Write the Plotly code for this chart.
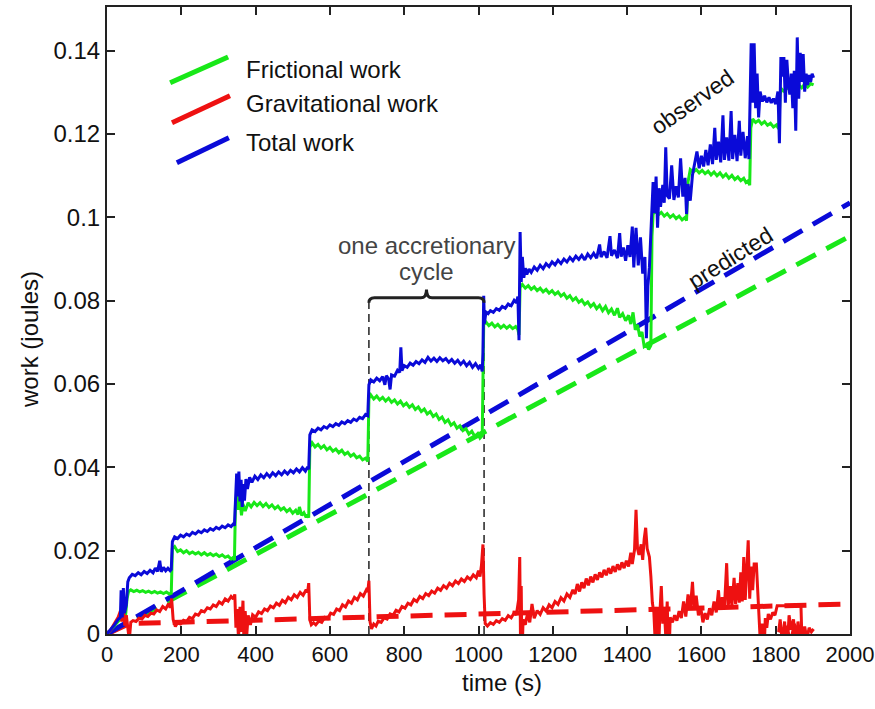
import plotly.graph_objects as go

# Observed work series: (time in s, work in J)
frictional_obs = [
    (0, 0), (15, 0.0015), (30, 0.003), (40, 0.004), (46, 0.005), (50, 0.0045), (54, 0.0085), (58, 0.0102),
    (64, 0.0106), (72, 0.0102), (80, 0.0105), (88, 0.0101), (96, 0.0104), (104, 0.01), (112, 0.0103),
    (120, 0.0099), (128, 0.0102), (136, 0.0098), (144, 0.0101), (152, 0.0097), (160, 0.0101), (168, 0.0096),
    (173, 0.0098), (176, 0.0205), (182, 0.021), (190, 0.0198), (198, 0.0202), (206, 0.0195), (214, 0.02),
    (222, 0.0193), (230, 0.0197), (238, 0.0192), (246, 0.0196), (254, 0.019), (262, 0.0195), (270, 0.0189),
    (278, 0.0193), (286, 0.0188), (294, 0.0192), (302, 0.0186), (310, 0.019), (318, 0.0184), (326, 0.0187),
    (334, 0.018), (340, 0.0184), (343, 0.0177), (346, 0.0318), (350, 0.0336), (354, 0.0298), (358, 0.0322),
    (362, 0.0285), (366, 0.0312), (372, 0.0295), (380, 0.0315), (388, 0.0305), (396, 0.0316), (404, 0.0308),
    (412, 0.0315), (420, 0.0306), (428, 0.0313), (436, 0.0304), (444, 0.031), (452, 0.0301), (460, 0.0307),
    (468, 0.0298), (476, 0.0303), (484, 0.0294), (492, 0.03), (500, 0.029), (508, 0.0297), (514, 0.0287),
    (518, 0.0305), (524, 0.0285), (530, 0.0291), (536, 0.028), (540, 0.0286), (543, 0.0279), (546, 0.0448),
    (552, 0.0459), (560, 0.0449), (568, 0.0455), (576, 0.0446), (584, 0.0452), (592, 0.0442), (600, 0.0448),
    (608, 0.0439), (616, 0.0444), (624, 0.0435), (632, 0.0441), (640, 0.0431), (648, 0.0436), (656, 0.0427),
    (664, 0.0432), (672, 0.0423), (680, 0.0427), (688, 0.0418), (696, 0.0422), (702, 0.0414), (705, 0.0565),
    (710, 0.0574), (718, 0.0564), (726, 0.0571), (734, 0.0562), (742, 0.0568), (750, 0.0559), (758, 0.0566),
    (766, 0.0556), (774, 0.0562), (782, 0.0552), (790, 0.0559), (798, 0.0548), (806, 0.0554), (814, 0.0544),
    (822, 0.055), (830, 0.0539), (838, 0.0545), (846, 0.0534), (854, 0.054), (862, 0.0528), (870, 0.0534),
    (878, 0.0522), (886, 0.0528), (894, 0.0515), (902, 0.0521), (910, 0.0508), (918, 0.0514), (926, 0.0501),
    (934, 0.0507), (942, 0.0494), (950, 0.05), (958, 0.0488), (966, 0.0493), (974, 0.048), (982, 0.0487),
    (990, 0.0474), (998, 0.0481), (1004, 0.047), (1010, 0.0476), (1014, 0.0742), (1020, 0.0749),
    (1028, 0.074), (1036, 0.0746), (1044, 0.0737), (1052, 0.0743), (1060, 0.0735), (1068, 0.0741),
    (1076, 0.0734), (1084, 0.074), (1092, 0.0733), (1100, 0.0738), (1106, 0.0731), (1109, 0.0718),
    (1112, 0.0832), (1118, 0.0839), (1126, 0.083), (1134, 0.0836), (1142, 0.0827), (1150, 0.0833),
    (1158, 0.0824), (1166, 0.083), (1174, 0.0821), (1182, 0.0827), (1190, 0.0818), (1198, 0.0824),
    (1206, 0.0815), (1214, 0.0821), (1222, 0.0811), (1230, 0.0817), (1238, 0.0806), (1246, 0.0812),
    (1254, 0.0801), (1262, 0.0807), (1270, 0.0796), (1278, 0.0802), (1286, 0.0791), (1294, 0.0797),
    (1302, 0.0786), (1310, 0.0793), (1318, 0.0781), (1326, 0.0789), (1334, 0.0776), (1342, 0.0786),
    (1350, 0.0771), (1358, 0.078), (1366, 0.0765), (1374, 0.0782), (1380, 0.076), (1388, 0.0769),
    (1396, 0.0752), (1404, 0.0765), (1410, 0.0744), (1416, 0.0772), (1422, 0.073), (1428, 0.0742),
    (1434, 0.0714), (1440, 0.0725), (1446, 0.069), (1452, 0.0694), (1458, 0.0683), (1464, 0.0693),
    (1467, 0.0955), (1470, 0.1008), (1476, 0.1015), (1484, 0.1006), (1492, 0.1012), (1500, 0.1003),
    (1508, 0.1009), (1516, 0.1), (1524, 0.1006), (1532, 0.0997), (1540, 0.1003), (1548, 0.0994),
    (1556, 0.1), (1560, 0.0992), (1564, 0.1085), (1570, 0.1115), (1578, 0.1109), (1586, 0.1115),
    (1594, 0.1107), (1602, 0.1113), (1610, 0.1105), (1618, 0.1111), (1626, 0.1102), (1634, 0.1109),
    (1642, 0.11), (1650, 0.1107), (1658, 0.1097), (1666, 0.1104), (1674, 0.1094), (1682, 0.1101),
    (1690, 0.1091), (1698, 0.1097), (1706, 0.1088), (1714, 0.1094), (1720, 0.1084), (1726, 0.1088),
    (1730, 0.1077), (1733, 0.1215), (1738, 0.1236), (1746, 0.1228), (1754, 0.1233), (1762, 0.1224),
    (1770, 0.123), (1778, 0.1221), (1786, 0.1226), (1794, 0.1217), (1802, 0.1222), (1808, 0.1213),
    (1812, 0.1295), (1816, 0.1308), (1822, 0.1303), (1830, 0.1312), (1838, 0.1306), (1846, 0.1315),
    (1854, 0.1309), (1862, 0.1318), (1870, 0.1311), (1878, 0.132), (1886, 0.1313), (1894, 0.1321),
    (1902, 0.1318),
]

gravitational_obs = [
    (0, 0), (10, 0.001), (20, 0.0025), (30, 0.004), (36, 0.0055), (40, 0.003), (44, 0.006), (48, 0.002),
    (52, 0.0045), (56, 0.0018), (60, -0.0015), (64, 0.0028), (70, 0.0032), (78, 0.003), (86, 0.0038),
    (94, 0.0036), (102, 0.0045), (110, 0.0042), (118, 0.005), (126, 0.0048), (134, 0.0058), (142, 0.0054),
    (150, 0.0066), (158, 0.006), (166, 0.0073), (170, 0.0063), (174, 0.0085), (178, 0.0035), (184, 0.0018),
    (190, 0.0027), (198, 0.0024), (206, 0.0033), (214, 0.003), (222, 0.004), (230, 0.0037), (238, 0.0048),
    (246, 0.0045), (254, 0.0056), (262, 0.0053), (270, 0.0063), (278, 0.006), (286, 0.007), (294, 0.0066),
    (302, 0.0077), (310, 0.0072), (318, 0.0084), (326, 0.0079), (334, 0.009), (340, 0.0084), (344, 0.0095),
    (347, 0.0015), (350, 0.006), (354, -0.001), (358, 0.0065), (362, 0.0005), (366, 0.008), (369, -0.0035),
    (372, 0.0055), (376, -0.0005), (380, 0.0045), (386, 0.0022), (392, 0.0046), (400, 0.004), (408, 0.0053),
    (416, 0.0049), (424, 0.006), (432, 0.0056), (440, 0.0067), (448, 0.0063), (456, 0.0074), (464, 0.0069),
    (472, 0.0081), (480, 0.0075), (488, 0.0088), (496, 0.0082), (504, 0.0094), (512, 0.0088), (520, 0.01),
    (528, 0.0093), (536, 0.0106), (540, 0.01), (543, 0.0122), (546, 0.0035), (550, 0.0022), (556, 0.0027),
    (562, 0.0022), (570, 0.0031), (578, 0.0028), (586, 0.004), (594, 0.0037), (602, 0.005), (610, 0.0047),
    (618, 0.006), (626, 0.0056), (634, 0.007), (642, 0.0065), (650, 0.0079), (658, 0.0074), (666, 0.0088),
    (674, 0.0082), (682, 0.0097), (690, 0.0091), (698, 0.0106), (702, 0.0101), (705, 0.0128), (708, 0.003),
    (712, 0.0012), (718, 0.0024), (724, 0.0019), (730, 0.0031), (738, 0.0028), (746, 0.0039), (754, 0.0036),
    (762, 0.0048), (770, 0.0045), (778, 0.0057), (786, 0.0053), (794, 0.0066), (802, 0.0062), (810, 0.0074),
    (818, 0.007), (826, 0.0083), (834, 0.0078), (842, 0.009), (850, 0.0085), (858, 0.0097), (866, 0.0092),
    (874, 0.0103), (882, 0.0098), (890, 0.011), (898, 0.0105), (906, 0.0116), (914, 0.011), (922, 0.0122),
    (930, 0.0116), (938, 0.0127), (946, 0.0121), (954, 0.0132), (962, 0.0126), (970, 0.0137), (978, 0.0131),
    (986, 0.0142), (994, 0.0135), (1000, 0.0152), (1004, 0.0138), (1008, 0.0165), (1012, 0.0215),
    (1015, 0.0095), (1018, 0.0025), (1024, 0.0019), (1032, 0.0027), (1040, 0.0023), (1048, 0.0032),
    (1056, 0.0028), (1064, 0.0037), (1072, 0.0033), (1080, 0.0044), (1088, 0.0039), (1096, 0.0051),
    (1102, 0.0046), (1108, 0.0082), (1111, 0.0185), (1113, -0.0008), (1115, 0.0115), (1117, -0.0058),
    (1120, 0.0035), (1126, 0.0022), (1132, 0.005), (1138, 0.0028), (1144, 0.0072), (1150, 0.0038),
    (1158, 0.0056), (1166, 0.0047), (1174, 0.0063), (1182, 0.0055), (1190, 0.007), (1198, 0.0063),
    (1206, 0.0078), (1214, 0.0071), (1222, 0.0087), (1230, 0.0079), (1238, 0.0096), (1246, 0.0088),
    (1254, 0.0106), (1260, 0.0096), (1266, 0.012), (1272, 0.0102), (1278, 0.0124), (1284, 0.011),
    (1290, 0.0133), (1296, 0.0117), (1302, 0.0138), (1308, 0.0124), (1314, 0.0143), (1320, 0.013),
    (1326, 0.0148), (1332, 0.0136), (1338, 0.0154), (1344, 0.0141), (1350, 0.0158), (1356, 0.0145),
    (1362, 0.0163), (1368, 0.0149), (1374, 0.0167), (1380, 0.0154), (1386, 0.0172), (1392, 0.0158),
    (1398, 0.0176), (1404, 0.0162), (1410, 0.0195), (1414, 0.0168), (1420, 0.0202), (1424, 0.0298),
    (1428, 0.0205), (1432, 0.019), (1438, 0.0215), (1442, 0.0178), (1446, 0.0228), (1450, 0.0255),
    (1454, 0.0205), (1460, 0.0185), (1464, 0.0138), (1468, 0.0075), (1472, 0.0052), (1476, -0.0025),
    (1480, 0.0065), (1484, -0.0065), (1488, 0.0045), (1492, 0.0115), (1496, 0.0025), (1500, 0.0062),
    (1504, -0.0005), (1508, 0.0078), (1512, -0.0085), (1516, 0.004), (1522, 0.0028), (1528, 0.0045),
    (1534, 0.0032), (1540, 0.0055), (1546, 0.0038), (1552, 0.0078), (1558, 0.0042), (1564, 0.0095),
    (1570, 0.0058), (1576, 0.0125), (1580, 0.0062), (1586, 0.0092), (1592, 0.0045), (1598, 0.0065),
    (1604, 0.0028), (1610, 0.005), (1616, 0.0035), (1622, 0.0062), (1628, 0.0045), (1634, 0.0078),
    (1640, 0.0052), (1646, 0.0105), (1650, 0.0058), (1656, 0.0088), (1662, 0.0062), (1668, 0.017),
    (1672, 0.0065), (1678, 0.0115), (1682, 0.0068), (1688, 0.0135), (1692, 0.0072), (1698, 0.0122),
    (1702, 0.0075), (1706, 0.0148), (1710, 0.0078), (1714, 0.0185), (1718, 0.0082), (1722, 0.014),
    (1726, 0.0225), (1730, 0.0085), (1734, 0.0162), (1738, 0.0105), (1742, 0.0168), (1748, 0.0168),
    (1752, 0.0098), (1756, 0.0045), (1760, -0.0045), (1764, 0.0025), (1768, -0.006), (1772, 0.0038),
    (1776, 0.0015), (1780, 0.0048), (1786, 0.0035), (1792, 0.0052), (1798, 0.0045), (1804, 0.0068),
    (1868, 0.0068), (1870, 0.0005), (1866, -0.001), (1860, 0.003), (1854, -0.004), (1848, 0.0035),
    (1842, 0.001), (1836, 0.0045), (1830, -0.005), (1824, 0.003), (1818, -0.002), (1812, 0.0035),
    (1808, 0.0005), (1814, 0.0012), (1822, -0.0035), (1830, 0.002), (1840, -0.002), (1850, 0.0025),
    (1858, -0.0015), (1866, 0.002), (1872, -0.0005), (1878, 0.0018), (1884, -0.0012), (1890, 0.0015),
    (1896, 0.0005), (1902, 0.0012),
]

total_obs = [
    (0, 0), (10, 0.001), (20, 0.0022), (30, 0.0035), (36, 0.004), (38, 0.0105), (41, 0.004), (44, 0.011),
    (47, 0.005), (52, 0.007), (56, 0.0125), (60, 0.0135), (68, 0.0143), (76, 0.014), (84, 0.0147),
    (92, 0.0142), (100, 0.015), (108, 0.0145), (116, 0.0153), (124, 0.0147), (130, 0.0158), (136, 0.015),
    (142, 0.0176), (146, 0.0149), (152, 0.016), (158, 0.0152), (164, 0.0158), (170, 0.0152), (173, 0.0155),
    (176, 0.0222), (182, 0.0233), (190, 0.0229), (198, 0.0237), (206, 0.0233), (214, 0.024), (222, 0.0236),
    (230, 0.0244), (238, 0.024), (246, 0.0247), (254, 0.0243), (262, 0.025), (270, 0.0246), (278, 0.0253),
    (286, 0.0249), (294, 0.0256), (302, 0.0252), (310, 0.0259), (318, 0.0255), (326, 0.0262), (334, 0.0258),
    (340, 0.0264), (343, 0.026), (346, 0.0345), (349, 0.0385), (352, 0.033), (355, 0.039), (358, 0.0318),
    (361, 0.037), (364, 0.0305), (367, 0.036), (370, 0.032), (374, 0.0372), (378, 0.0348), (384, 0.0376),
    (390, 0.0364), (398, 0.0379), (406, 0.0371), (414, 0.0382), (422, 0.0375), (430, 0.0385), (438, 0.0377),
    (446, 0.0387), (454, 0.038), (462, 0.0389), (470, 0.0382), (478, 0.0391), (486, 0.0384), (494, 0.0393),
    (502, 0.0387), (510, 0.0396), (518, 0.0389), (526, 0.0399), (534, 0.0391), (540, 0.0401), (543, 0.0395),
    (546, 0.0478), (552, 0.049), (560, 0.0486), (568, 0.0494), (576, 0.049), (584, 0.0498), (592, 0.0494),
    (600, 0.0502), (608, 0.0498), (616, 0.0505), (624, 0.0501), (632, 0.0509), (640, 0.0505), (648, 0.0512),
    (656, 0.0508), (664, 0.0516), (672, 0.0512), (680, 0.052), (688, 0.0517), (696, 0.0527), (702, 0.0524),
    (705, 0.0598), (710, 0.061), (718, 0.0605), (726, 0.0614), (734, 0.0608), (742, 0.0618), (748, 0.0598),
    (752, 0.062), (758, 0.0612), (762, 0.0587), (766, 0.0622), (774, 0.0619), (782, 0.0633), (788, 0.0628),
    (791, 0.0688), (794, 0.0632), (800, 0.0644), (808, 0.064), (816, 0.065), (824, 0.0645), (832, 0.0654),
    (840, 0.0649), (848, 0.0658), (856, 0.0652), (864, 0.0664), (872, 0.0655), (880, 0.0662), (888, 0.0654),
    (896, 0.0663), (904, 0.0656), (912, 0.0661), (920, 0.0652), (928, 0.0659), (936, 0.065), (944, 0.0657),
    (952, 0.0647), (960, 0.0655), (968, 0.0644), (976, 0.0652), (984, 0.064), (992, 0.0649), (1000, 0.0638),
    (1006, 0.0646), (1010, 0.063), (1012, 0.0675), (1014, 0.0812), (1016, 0.0745), (1020, 0.0773),
    (1026, 0.0769), (1032, 0.0776), (1040, 0.0772), (1048, 0.0781), (1056, 0.0777), (1064, 0.0786),
    (1072, 0.0782), (1080, 0.0792), (1088, 0.0788), (1096, 0.0801), (1102, 0.0795), (1106, 0.081),
    (1109, 0.0705), (1112, 0.0965), (1115, 0.0845), (1118, 0.0905), (1122, 0.0855), (1126, 0.0878),
    (1130, 0.0863), (1136, 0.0876), (1142, 0.0868), (1150, 0.0881), (1158, 0.0873), (1166, 0.0885),
    (1174, 0.0877), (1182, 0.0889), (1190, 0.0882), (1198, 0.0893), (1206, 0.0886), (1214, 0.0897),
    (1222, 0.0889), (1230, 0.09), (1238, 0.0893), (1246, 0.0904), (1254, 0.0896), (1262, 0.0907),
    (1270, 0.0899), (1278, 0.0909), (1286, 0.0898), (1294, 0.0912), (1302, 0.0903), (1310, 0.0914),
    (1318, 0.0902), (1326, 0.0935), (1330, 0.0905), (1338, 0.0918), (1346, 0.0903), (1354, 0.0955),
    (1358, 0.0908), (1366, 0.0922), (1374, 0.0902), (1380, 0.0962), (1384, 0.0906), (1390, 0.0928),
    (1396, 0.0896), (1402, 0.0933), (1408, 0.0905), (1414, 0.0978), (1418, 0.088), (1424, 0.0975),
    (1430, 0.0885), (1436, 0.0952), (1442, 0.0865), (1448, 0.0905), (1452, 0.071), (1456, 0.0835),
    (1460, 0.088), (1464, 0.0962), (1467, 0.1045), (1470, 0.1085), (1474, 0.101), (1478, 0.1098),
    (1482, 0.0975), (1486, 0.107), (1490, 0.1025), (1496, 0.1078), (1500, 0.1035), (1504, 0.1168),
    (1508, 0.1052), (1514, 0.1045), (1520, 0.1125), (1526, 0.1042), (1532, 0.1075), (1538, 0.1048),
    (1544, 0.1142), (1550, 0.105), (1556, 0.1095), (1560, 0.1008), (1564, 0.108), (1570, 0.104),
    (1576, 0.1102), (1582, 0.1135), (1588, 0.1158), (1594, 0.1118), (1600, 0.1148), (1606, 0.1122),
    (1612, 0.1162), (1618, 0.1125), (1624, 0.1175), (1630, 0.1128), (1636, 0.1215), (1640, 0.1138),
    (1646, 0.1182), (1652, 0.1132), (1658, 0.1245), (1662, 0.1138), (1668, 0.1192), (1674, 0.1136),
    (1680, 0.1255), (1684, 0.114), (1690, 0.1198), (1696, 0.1135), (1702, 0.1232), (1706, 0.1148),
    (1712, 0.1205), (1718, 0.1142), (1724, 0.1195), (1728, 0.114), (1731, 0.1265), (1734, 0.1418),
    (1738, 0.1275), (1742, 0.1418), (1746, 0.1262), (1750, 0.1345), (1754, 0.124), (1758, 0.1302),
    (1764, 0.1278), (1770, 0.1292), (1776, 0.1276), (1782, 0.1288), (1788, 0.1275), (1794, 0.1285),
    (1800, 0.1272), (1806, 0.1302), (1810, 0.1178), (1814, 0.1385), (1818, 0.1338), (1822, 0.1385),
    (1826, 0.1275), (1830, 0.1378), (1834, 0.1322), (1838, 0.1295), (1842, 0.1345), (1846, 0.1262),
    (1850, 0.1352), (1854, 0.1208), (1858, 0.1432), (1862, 0.1285), (1866, 0.1395), (1870, 0.1325),
    (1874, 0.1392), (1878, 0.1302), (1882, 0.1345), (1886, 0.1318), (1890, 0.1342), (1894, 0.1325),
    (1898, 0.1345), (1902, 0.1335),
]

# Predicted (model) work
pred_time = [0, 2000]
pred_frictional = [0, 0.0955]
pred_total = [0, 0.1035]
pred_grav_time = [0, 60, 2000]
pred_gravitational = [0, 0.0025, 0.0072]

# One accretionary cycle boundaries (s) and marker height (J)
cycle_start, cycle_end = 705, 1015
cycle_top = 0.0805

x_ticks = list(range(0, 2001, 200))
y_ticks = [0, 0.02, 0.04, 0.06, 0.08, 0.1, 0.12, 0.14]
y_tick_text = ["0", "0.02", "0.04", "0.06", "0.08", "0.1", "0.12", "0.14"]

GREEN = "#18e818"
RED = "#ee1111"
BLUE = "#0a0ad8"
FONT = "Liberation Sans, Arial, sans-serif"
TEXT_SIZE = 24


def split(pairs):
    return [p[0] for p in pairs], [p[1] for p in pairs]


fig = go.Figure()

# dashed predictions
for tx, ty, col in [(pred_time, pred_frictional, GREEN),
                    (pred_grav_time, pred_gravitational, RED),
                    (pred_time, pred_total, BLUE)]:
    fig.add_trace(go.Scatter(x=tx, y=ty, mode="lines",
                             line=dict(color=col, width=5, dash="22px,12px"),
                             showlegend=False, hoverinfo="skip"))

# observed series
for series, col in [(frictional_obs, GREEN), (gravitational_obs, RED), (total_obs, BLUE)]:
    tx, ty = split(series)
    fig.add_trace(go.Scatter(x=tx, y=ty, mode="lines",
                             line=dict(color=col, width=3),
                             showlegend=False, hoverinfo="skip"))

shapes = []
# cycle boundaries
for xc in (cycle_start, cycle_end):
    shapes.append(dict(type="line", xref="x", yref="y", x0=xc, x1=xc, y0=0, y1=cycle_top,
                       line=dict(color="#222222", width=1.5, dash="8px,5px"), layer="below"))
# curly brace over the cycle
mid = (cycle_start + cycle_end) / 2
b0 = cycle_top - 0.001
b1 = cycle_top + 0.0002
b2 = cycle_top + 0.0022
brace = (f"M {cycle_start},{b0} Q {cycle_start},{b1} {cycle_start + 15},{b1} "
         f"L {mid - 15},{b1} Q {mid},{b1} {mid},{b2} "
         f"Q {mid},{b1} {mid + 15},{b1} L {cycle_end - 15},{b1} "
         f"Q {cycle_end},{b1} {cycle_end},{b0}")
shapes.append(dict(type="path", xref="x", yref="y", path=brace,
                   line=dict(color="#222222", width=3)))

# hand-drawn style legend (slanted swatches)
legend_items = [("Frictional work", GREEN, (170, 0.1323), (326, 0.1385), 0.1354),
                ("Gravitational work", RED, (175, 0.1227), (331, 0.1292), 0.1273),
                ("Total work", BLUE, (188, 0.1131), (328, 0.1191), 0.1179)]
annotations = []
for label, col, p0, p1, ty in legend_items:
    shapes.append(dict(type="line", xref="x", yref="y", x0=p0[0], y0=p0[1], x1=p1[0], y1=p1[1],
                       line=dict(color=col, width=5)))
    annotations.append(dict(x=369, y=ty, xref="x", yref="y", text=label, showarrow=False,
                            xanchor="left", yanchor="middle",
                            font=dict(family=FONT, size=TEXT_SIZE, color="#111111")))

annotations += [
    dict(x=mid, y=0.0932, xref="x", yref="y", text="one accretionary", showarrow=False,
         font=dict(family=FONT, size=TEXT_SIZE, color="#444444")),
    dict(x=mid, y=0.0869, xref="x", yref="y", text="cycle", showarrow=False,
         font=dict(family=FONT, size=TEXT_SIZE, color="#444444")),
    dict(x=1575, y=0.1277, xref="x", yref="y", text="observed", showarrow=False, textangle=-35,
         font=dict(family=FONT, size=23, color="#111111")),
    dict(x=1677, y=0.0903, xref="x", yref="y", text="predicted", showarrow=False, textangle=-32,
         font=dict(family=FONT, size=23, color="#111111")),
    dict(x=0.531, y=-0.078, xref="paper", yref="paper", text="time (s)", showarrow=False,
         yanchor="middle", font=dict(family=FONT, size=TEXT_SIZE, color="#111111")),
    dict(x=-0.104, y=0.47, xref="paper", yref="paper", text="work (joules)", showarrow=False,
         textangle=-90, xanchor="center", font=dict(family=FONT, size=TEXT_SIZE, color="#111111")),
]

axis_common = dict(showline=True, linecolor="#222222", linewidth=2, mirror="ticks",
                   ticks="inside", ticklen=8, tickwidth=1.5, tickcolor="#222222",
                   showgrid=False, zeroline=False, ticklabeloverflow="allow", automargin=False)

fig.update_layout(
    width=875, height=709,
    margin=dict(l=107, r=25, t=7, b=75),
    paper_bgcolor="white", plot_bgcolor="white",
    showlegend=False,
    shapes=shapes, annotations=annotations,
    xaxis=dict(range=[0, 2000], tickvals=x_ticks,
               tickfont=dict(family=FONT, size=22, color="#111111"), **axis_common),
    yaxis=dict(range=[0, 0.1505], tickvals=y_ticks, ticktext=y_tick_text,
               tickfont=dict(family=FONT, size=TEXT_SIZE, color="#111111"), **axis_common),
)

fig.write_html("out.html")
